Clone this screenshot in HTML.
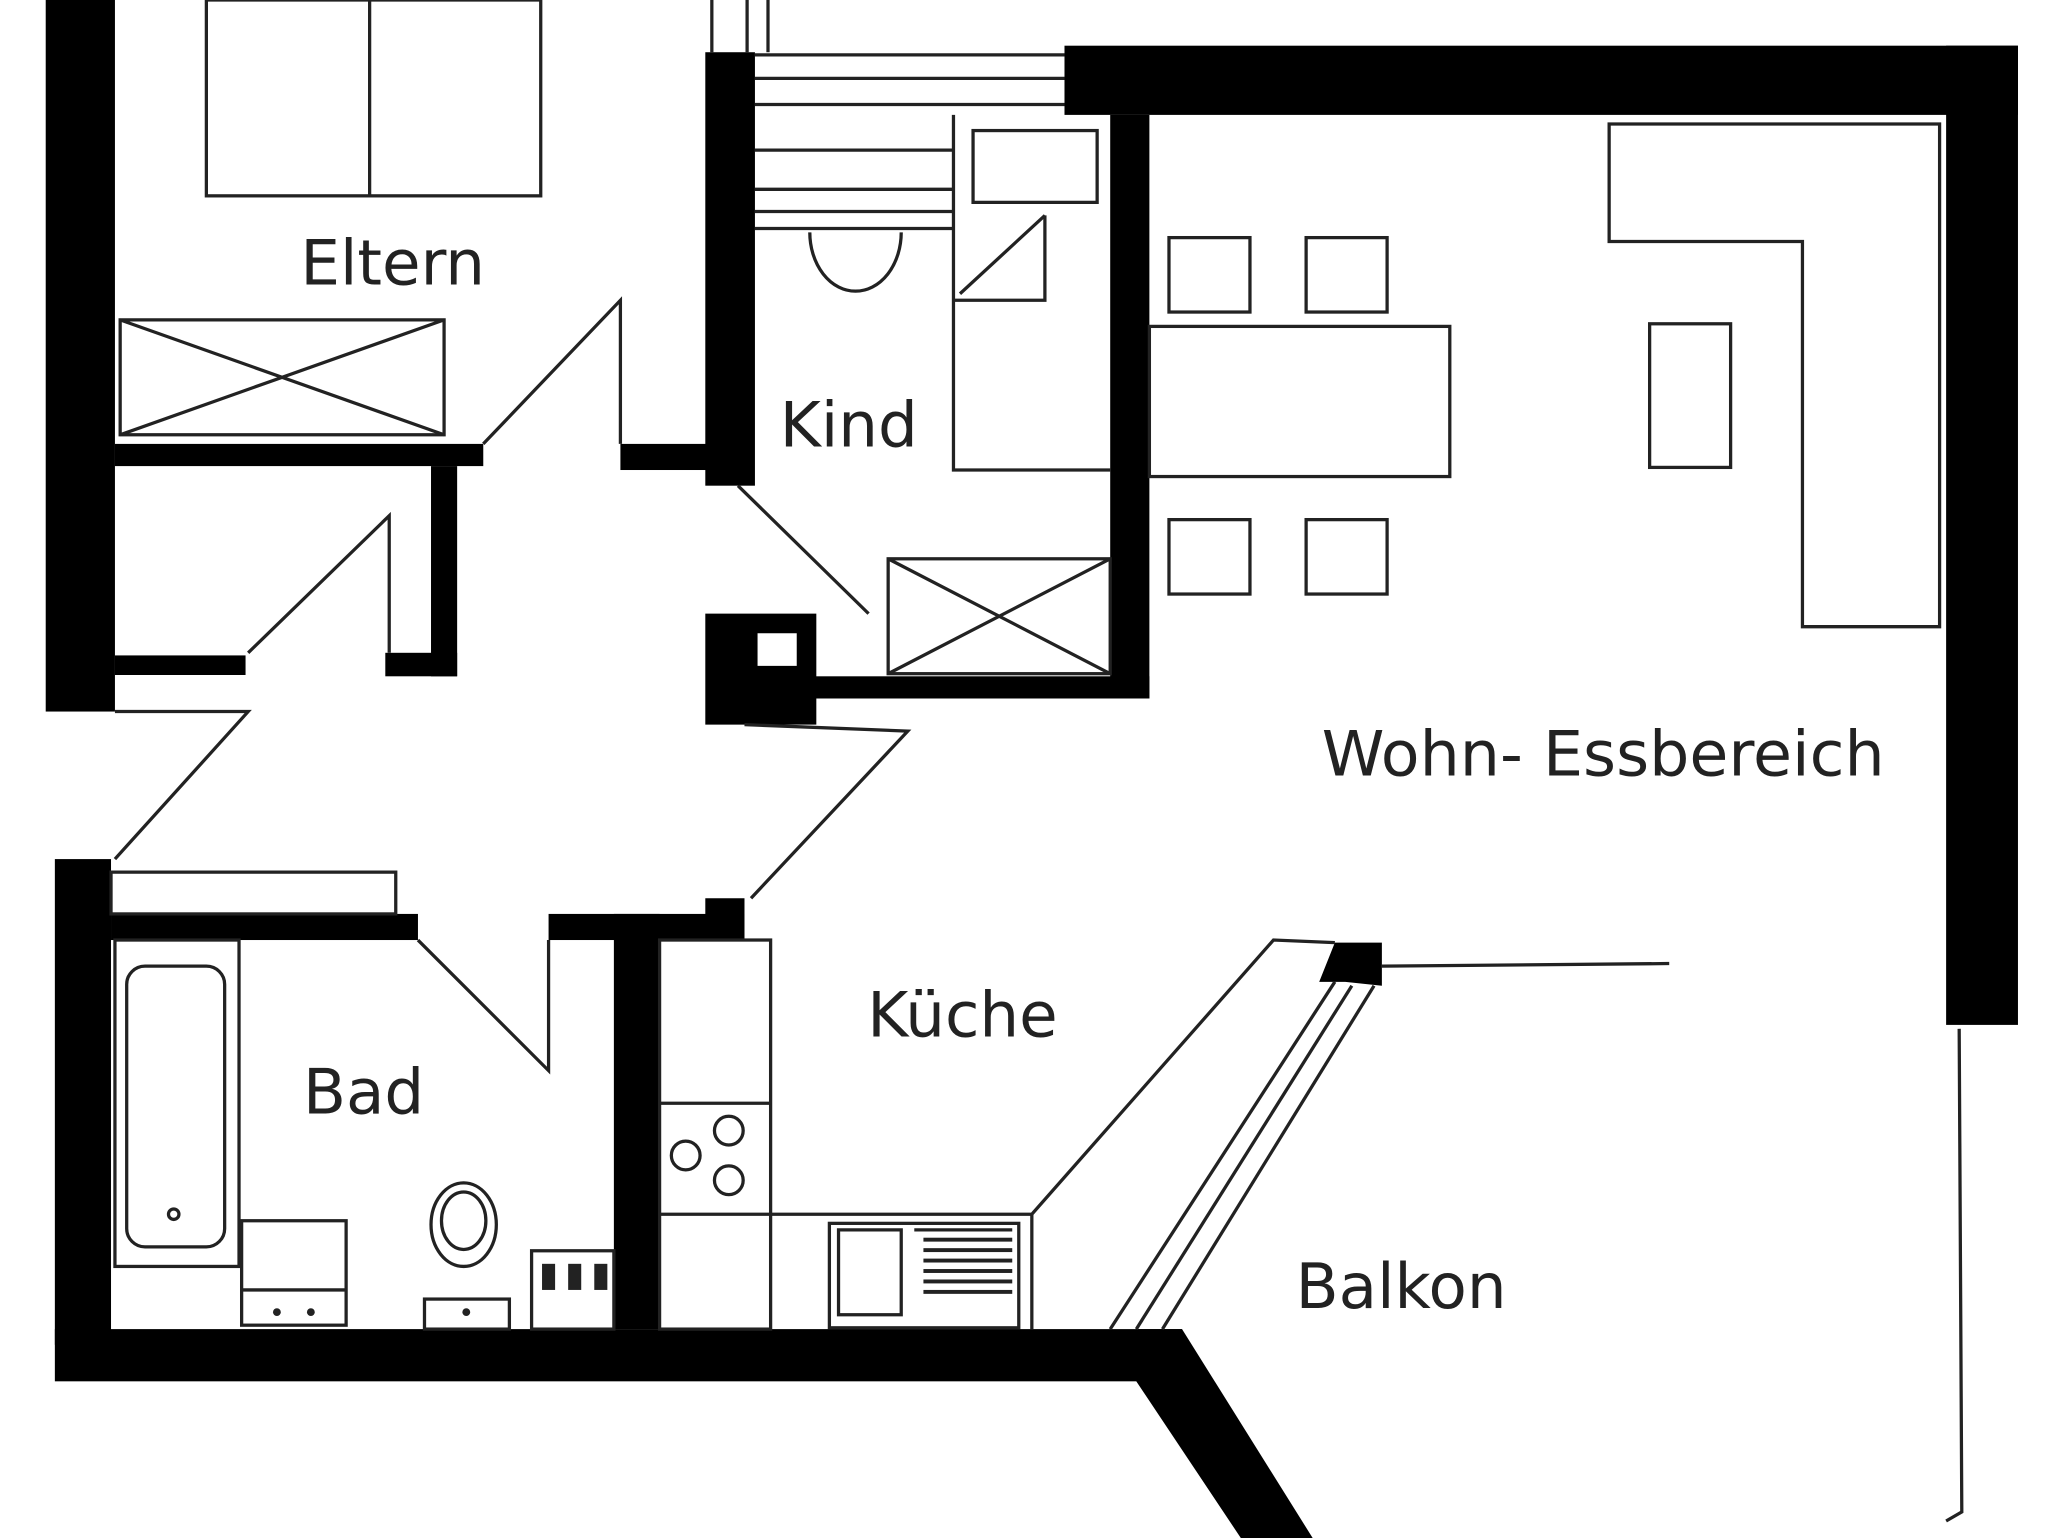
<!DOCTYPE html>
<html><head><meta charset="utf-8"><style>
html,body{margin:0;padding:0;background:#fff;}
svg{display:block;}
text{font-family:"DejaVu Sans","Liberation Sans",sans-serif;fill:#222;}
</style></head><body>
<svg width="2048" height="1538" viewBox="0 0 1568 1178" preserveAspectRatio="none" xmlns="http://www.w3.org/2000/svg">
<rect width="1568" height="1178" fill="#fff"/>
<g fill="#000">
<rect x="35" y="0" width="53" height="545"/>
<rect x="88" y="340" width="282" height="17"/>
<rect x="330" y="357" width="20" height="161"/>
<rect x="88" y="502" width="100" height="15"/>
<rect x="295" y="500" width="55" height="18"/>
<rect x="42" y="658" width="43" height="372"/>
<rect x="85" y="700" width="235" height="20"/>
<rect x="420" y="700" width="150" height="20"/>
<rect x="540" y="688" width="30" height="32"/>
<rect x="470" y="700" width="35" height="318"/>
<rect x="42" y="1018" width="863" height="40"/>
<polygon points="870,1018 905,1018 1005,1178 950,1178 870,1058"/>
<rect x="540" y="40" width="38" height="332"/>
<rect x="475" y="340" width="70" height="20"/>
<rect x="815" y="35" width="730" height="53"/>
<rect x="1490" y="35" width="55" height="750"/>
<rect x="850" y="88" width="30" height="447"/>
<rect x="560" y="518" width="320" height="17"/>
<path d="M540 470 h85 v85 h-85z M580 485 v25 h30 v-25z" fill-rule="evenodd"/>
<polygon points="1022,722 1058,722 1058,755 1030,752 1010,752"/>
</g>
<g fill="none" stroke="#222" stroke-width="2.5">
<rect x="158" y="0" width="256" height="150"/>
<line x1="283" y1="0" x2="283" y2="150"/>
<rect x="92" y="245" width="248" height="88"/>
<line x1="92" y1="245" x2="340" y2="333"/><line x1="92" y1="333" x2="340" y2="245"/>
<line x1="545" y1="0" x2="545" y2="40"/><line x1="572" y1="0" x2="572" y2="40"/><line x1="588" y1="0" x2="588" y2="40"/>
<line x1="578" y1="42" x2="815" y2="42"/><line x1="578" y1="60" x2="815" y2="60"/><line x1="578" y1="80" x2="815" y2="80"/>
<line x1="578" y1="115" x2="730" y2="115"/><line x1="578" y1="145" x2="730" y2="145"/><line x1="578" y1="162" x2="730" y2="162"/><line x1="578" y1="175" x2="730" y2="175"/>
<path d="M730 88 V360 H850"/>
<rect x="745" y="100" width="95" height="55"/>
<polyline points="730,230 800,230 800,165"/>
<line x1="735" y1="225" x2="800" y2="165"/>
<path d="M620 178 A35 45 0 0 0 690 178"/>
<rect x="680" y="428" width="170" height="88"/>
<line x1="680" y1="428" x2="850" y2="516"/><line x1="680" y1="516" x2="850" y2="428"/>
<polyline points="475,340 475,230 370,340"/>
<polyline points="298,500 298,395 190,500"/>
<polyline points="88,545 190,545 88,658"/>
<polyline points="565,372 665,470"/>
<polyline points="570,555 695,560 575,688"/>
<polyline points="320,720 420,820 420,720"/>
<rect x="85" y="668" width="218" height="32"/>
<rect x="895" y="182" width="62" height="57"/><rect x="1000" y="182" width="62" height="57"/>
<rect x="880" y="250" width="230" height="115"/>
<rect x="895" y="398" width="62" height="57"/><rect x="1000" y="398" width="62" height="57"/>
<path d="M1232 95 H1485 V480 H1380 V185 H1232 Z"/>
<rect x="1263" y="248" width="62" height="110"/>
<polyline points="1058,740 1278,738"/>
<polyline points="1500,788 1502,1158 1490,1165"/>
<rect x="505" y="720" width="85" height="298"/>
<line x1="505" y1="845" x2="590" y2="845"/>
<line x1="505" y1="930" x2="590" y2="930"/>
<circle cx="525" cy="885" r="11"/><circle cx="558" cy="866" r="11"/><circle cx="558" cy="904" r="11"/>
<polyline points="590,930 790,930 975,720 1022,722"/>
<rect x="635" y="937" width="145" height="80"/>
<rect x="642" y="942" width="48" height="65"/>
<line x1="700" y1="942" x2="775" y2="942"/>
<line x1="790" y1="930" x2="790" y2="1018"/>
<line x1="850" y1="1018" x2="1022" y2="752"/>
<line x1="870" y1="1018" x2="1035" y2="755"/>
<line x1="890" y1="1018" x2="1052" y2="755"/>
<rect x="88" y="720" width="95" height="250"/>
<rect x="97" y="740" width="75" height="215" rx="14"/>
<circle cx="133" cy="930" r="4"/>
<rect x="185" y="935" width="80" height="80"/>
<line x1="185" y1="988" x2="265" y2="988"/>
<ellipse cx="355" cy="938" rx="25" ry="32"/>
<ellipse cx="355" cy="935" rx="17" ry="22"/>
<rect x="325" y="995" width="65" height="23"/>
<rect x="407" y="958" width="63" height="60"/>
</g>
<g fill="#222">
<rect x="707" y="948" width="68" height="3"/><rect x="707" y="956" width="68" height="3"/><rect x="707" y="964" width="68" height="3"/><rect x="707" y="972" width="68" height="3"/><rect x="707" y="980" width="68" height="3"/><rect x="707" y="988" width="68" height="3"/>
<rect x="415" y="968" width="10" height="20"/><rect x="435" y="968" width="10" height="20"/><rect x="455" y="968" width="10" height="20"/>
<circle cx="212" cy="1005" r="3"/><circle cx="238" cy="1005" r="3"/><circle cx="357" cy="1005" r="3"/>
</g>
<text x="230" y="218" font-size="48">Eltern</text>
<text x="597" y="342" font-size="48">Kind</text>
<text x="1012" y="594" font-size="48" textLength="431" lengthAdjust="spacingAndGlyphs">Wohn- Essbereich</text>
<text x="664" y="794" font-size="48">Küche</text>
<text x="232" y="853" font-size="48">Bad</text>
<text x="992" y="1002" font-size="48">Balkon</text>
</svg>
</body></html>
